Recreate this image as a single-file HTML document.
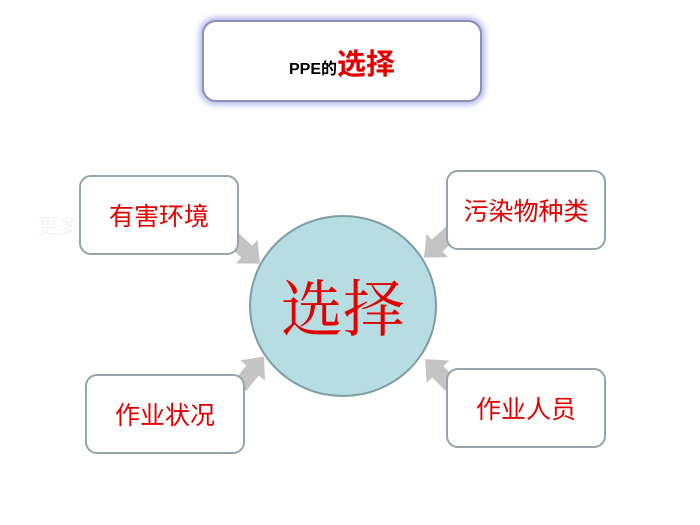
<!DOCTYPE html>
<html><head><meta charset="utf-8"><style>
body{margin:0;width:700px;height:525px;background:#fff;position:relative;overflow:hidden;font-family:"Liberation Sans","Noto Sans CJK SC",sans-serif}
.t{position:absolute;left:202px;top:20px;width:276px;height:78px;border:2px solid #8a90b8;border-radius:14px;box-shadow:0 0 6px 3px #b8bce8;background:#fff;text-align:center;line-height:80px}
.b{position:absolute;width:156px;height:76px;border:2px solid #95a5ab;border-radius:12px;background:#fff;color:#e00000;font-size:25px;text-align:center;line-height:76px;font-family:"Noto Sans CJK SC",sans-serif}
.c{position:absolute;left:249px;top:215px;width:184px;height:178px;border-radius:50%;background:#b6dde1;border:2px solid #7e9ea3;color:#e00000;font-size:62px;text-align:center;line-height:176px;font-family:"Noto Serif CJK SC",serif}
.w{position:absolute;left:38px;top:210px;color:#f4f4f4;font-size:20px;font-family:"Noto Sans CJK SC",sans-serif}
</style></head><body>
<div class="w">更多　　　　　料，请　　　　管家　　　　　　　ngsj1</div>
<div class="t"><b style="font-size:16px">PPE的</b><b style="font-size:29px;color:#e00000;font-family:'Noto Sans CJK SC',sans-serif">选择</b></div>
<svg width="700" height="525" style="position:absolute;left:0;top:0">
<defs><polygon id="ar" points="0,-8 20,-8 20,-16 38,0 20,16 20,8 0,8" fill="#c4c4c4"/></defs>
<use href="#ar" transform="translate(232,238) rotate(42.7)"/>
<use href="#ar" transform="translate(452,232) rotate(137.5)"/>
<use href="#ar" transform="translate(240,386) rotate(-51)"/>
<use href="#ar" transform="translate(452,386) rotate(-135)"/>
</svg>
<div class="c">选择</div>
<div class="b" style="left:79px;top:175px">有害环境</div>
<div class="b" style="left:446px;top:170px">污染物种类</div>
<div class="b" style="left:85px;top:374px">作业状况</div>
<div class="b" style="left:446px;top:368px">作业人员</div>
</body></html>
